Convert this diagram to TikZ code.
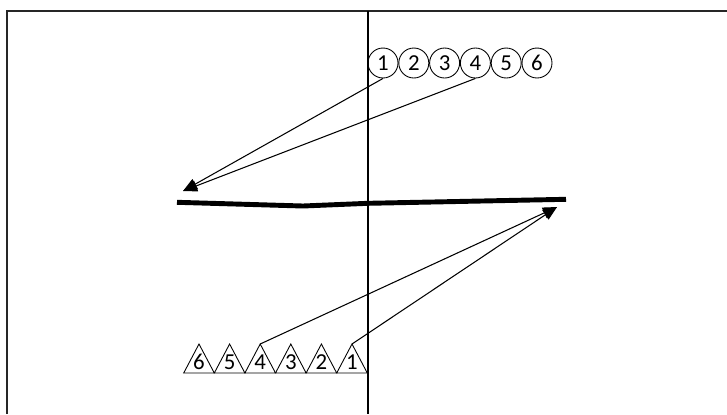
\documentclass[tikz,border=0pt]{standalone}
\usepackage{fontspec}
\setmainfont{Carlito}
\usetikzlibrary{arrows.meta}
\begin{document}
\begin{tikzpicture}[x=0.02cm,y=-0.02cm,every node/.style={font=\fontsize{13}{15}\selectfont},
  numcircle/.style={circle,draw,line width=.5pt,minimum size=0.6cm,inner sep=0pt},
  pointer/.style={line width=.6pt,-{Triangle[length=8pt,width=6.5pt]}}]
\useasboundingbox (0,0) rectangle (727,414);
\draw[line width=1.2pt,black!85] (7,414)--(7,11)--(727,11);
\draw[line width=1pt] (368,11)--(368,414);
\foreach \i in {1,...,6} \node[numcircle] (c\i) at ({383+30.8*(\i-1)},63) {\i};
\foreach \i in {1,...,6} {
  \coordinate (a\i) at ({352-30.6*(\i-1)},344);
  \draw[line width=.5pt] (a\i)--++(15.3,29)--++(-30.6,0)--cycle;
  \node (t\i) at ({352-30.6*(\i-1)},362) {\i};
}
\draw[line width=2.8pt] (177,202.3)--(303,206)--(368,203.3)--(566,199.3);
\coordinate (L) at (183,191);
\coordinate (R) at (557,207);
\draw[pointer] (c1.south)--(L);
\draw[pointer] (c4.south)--(L);
\draw[pointer] (a1)--(R);
\draw[pointer] (a4)--(R);
\end{tikzpicture}
\end{document}
